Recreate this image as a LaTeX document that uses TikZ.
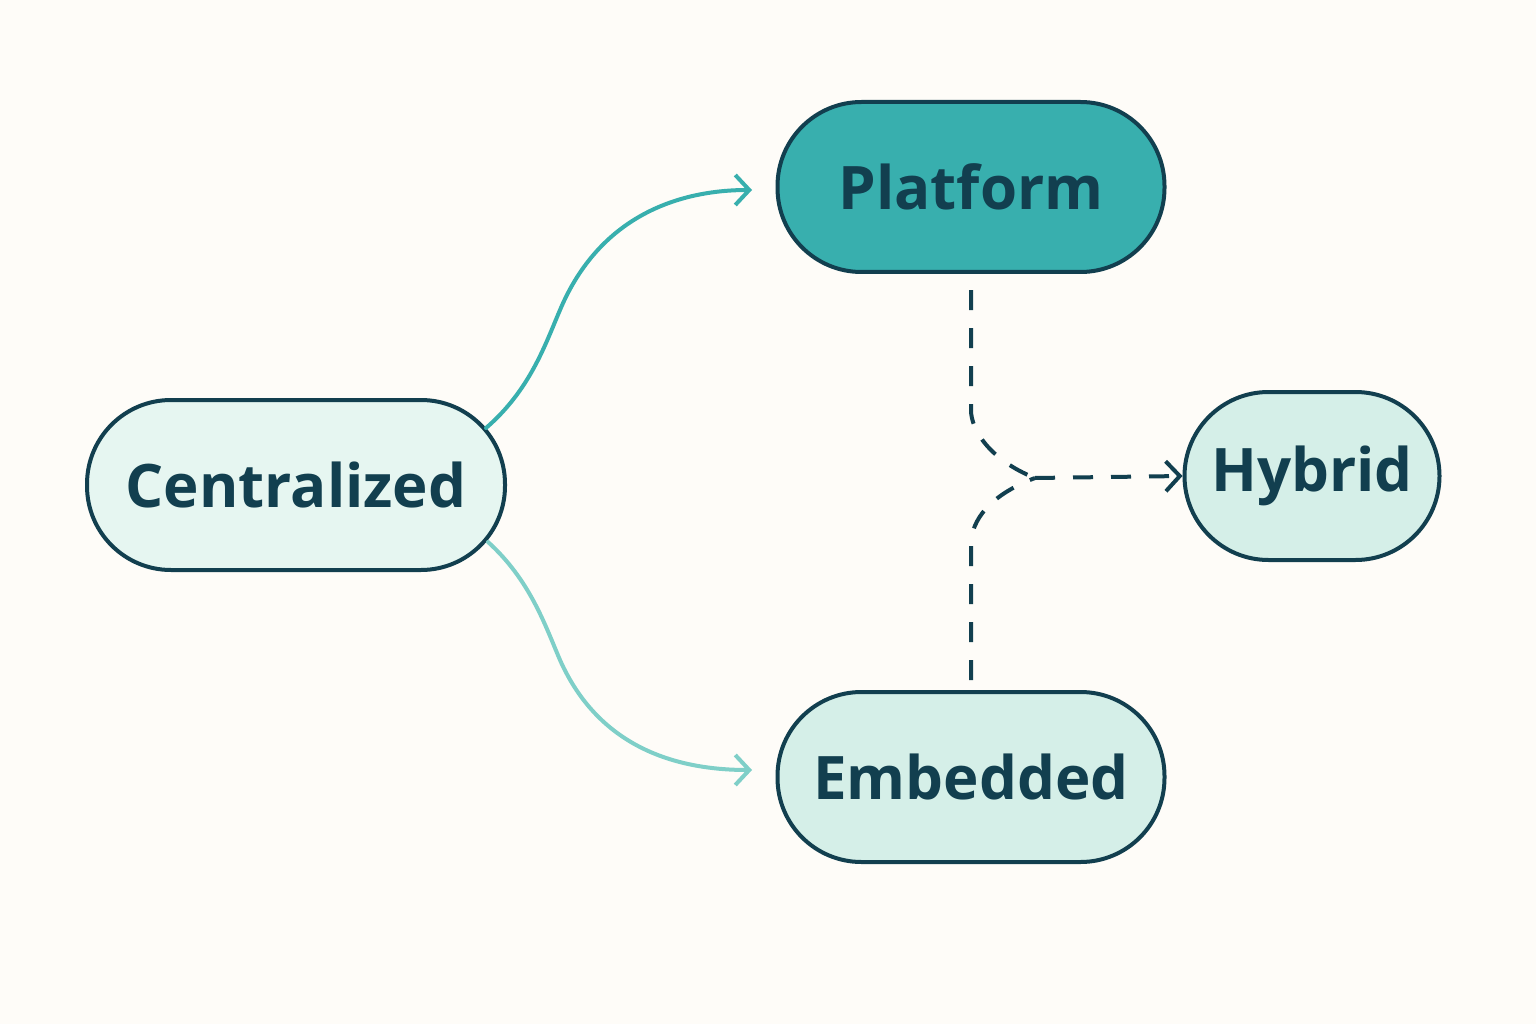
\documentclass[tikz,border=0pt]{standalone}
\usepackage{fontspec}
\setmainfont{Open Sans}
\usetikzlibrary{arrows.meta}
\definecolor{bg}{HTML}{FEFCF8}
\definecolor{dk}{HTML}{123F4F}
\definecolor{tl}{HTML}{38AFAE}
\definecolor{lt}{HTML}{7FCFC8}
\definecolor{f1}{HTML}{E6F6F1}
\definecolor{f2}{HTML}{D5EFE8}
\begin{document}
\begin{tikzpicture}[x=1pt,y=-1pt,
  pill/.style={draw=dk,line width=4pt,rounded corners=84pt,text=dk,font=\fontsize{60}{60}\selectfont\bfseries,inner sep=0pt},
  tip/.style={-{Straight Barb[length=14pt,width=30pt,line width=4pt]}}]
\fill[bg] (0,0) rectangle (1536,1024);
\node[pill,fill=f1,minimum width=418pt,minimum height=170pt] (c) at (296,485) {Centralized};
\node[pill,fill=tl,minimum width=387pt,minimum height=170pt] (p) at (971,187) {Platform};
\node[pill,fill=f2,minimum width=255pt,minimum height=168pt] (h) at (1312,476) {Hybrid};
\node[pill,fill=f2,minimum width=387pt,minimum height=170pt] (e) at (971,777) {Embedded};
\coordinate (pt) at (971,290);
\coordinate (pk) at (971,410);
\coordinate (et) at (971,680);
\coordinate (ek) at (971,545);
\coordinate (j) at (1035,478);
\draw[tl,line width=4pt,tip,line cap=round] (486,428) .. controls (530,390) and (545,345) .. (560,310) .. controls (600,215) and (680,190) .. (752,190);
\draw[lt,line width=4pt,tip,line cap=round] (488,542) .. controls (530,580) and (545,625) .. (560,660) .. controls (600,750) and (680,770) .. (752,770);
\draw[dk,line width=4pt,dash pattern=on 20pt off 18pt] (pt) -- (pk) .. controls (971,430) and (990,460) .. (j);
\draw[dk,line width=4pt,dash pattern=on 20pt off 18pt] (et) -- (ek) .. controls (971,520) and (990,495) .. (j);
\draw[dk,line width=4pt,dash pattern=on 20pt off 18pt,tip] (j) -- (h.west);
\end{tikzpicture}
\end{document}
